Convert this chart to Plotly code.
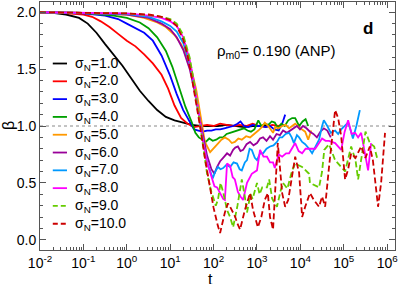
import plotly.graph_objects as go

# ---- data (log10 t, beta) ----
sigma_labels = ["1.0", "2.0", "3.0", "4.0", "5.0", "6.0", "7.0", "8.0", "9.0", "10.0"]
colors = ["#000000", "#ff0000", "#0000ff", "#00a000", "#ff9900",
          "#990099", "#0099ff", "#ff00ff", "#66cc00", "#cc0000"]
dashed = [False] * 8 + [True, True]

lt_1 = [-2.0, -1.7, -1.4, -1.1, -0.9, -0.7, -0.5, -0.3, -0.1, 0.1, 0.3, 0.5, 0.7, 0.9, 1.1, 1.3, 1.5, 1.7, 1.9, 2.1, 2.3, 2.5, 2.7, 2.9, 3.1, 3.3]
b_1 = [2.0, 1.995, 1.98, 1.95, 1.9, 1.82, 1.72, 1.63, 1.53, 1.42, 1.31, 1.22, 1.14, 1.08, 1.05, 1.03, 1.01, 1.0, 1.0, 1.0, 1.01, 1.0, 0.99, 1.0, 1.0, 1.0]

lt_2 = [-2.0, -1.5, -1.0, -0.8, -0.6, -0.4, -0.2, 0.0, 0.2, 0.4, 0.6, 0.8, 0.95, 1.1, 1.25, 1.4, 1.55, 1.7, 1.85, 2.0, 2.15, 2.3, 2.45, 2.6, 2.75, 2.9, 3.05, 3.2, 3.35, 3.5, 3.6]
b_2 = [2.0, 1.995, 1.98, 1.96, 1.92, 1.87, 1.81, 1.75, 1.70, 1.63, 1.55, 1.45, 1.33, 1.18, 1.07, 1.02, 0.99, 1.0, 1.01, 1.0, 1.02, 1.01, 1.0, 1.01, 1.0, 1.02, 1.0, 0.99, 1.01, 1.0, 1.02]

lt_3 = [-2.0, -1.0, -0.5, -0.2, 0.0, 0.2, 0.4, 0.6, 0.8, 1.0, 1.15, 1.3, 1.45, 1.55, 1.65, 1.75, 1.85, 1.95, 2.05, 2.15, 2.25, 2.35, 2.45, 2.55, 2.62, 2.7, 2.8, 2.9, 3.0, 3.1, 3.2, 3.3, 3.4, 3.5, 3.58, 3.65]
b_3 = [2.0, 1.99, 1.97, 1.94, 1.90, 1.86, 1.82, 1.75, 1.62, 1.44, 1.28, 1.14, 1.03, 0.97, 0.96, 0.95, 0.96, 0.96, 0.97, 0.97, 0.98, 0.99, 1.0, 1.02, 1.04, 1.0, 0.99, 1.01, 1.0, 1.0, 0.99, 1.0, 0.97, 0.96, 1.02, 1.1]

lt_4 = [-2.0, -1.0, -0.3, 0.0, 0.3, 0.5, 0.7, 0.9, 1.05, 1.2, 1.35, 1.5, 1.58, 1.66, 1.74, 1.82, 1.9, 1.98, 2.06, 2.14, 2.22, 2.3, 2.38, 2.46, 2.54, 2.62, 2.7, 2.78, 2.86, 2.94, 3.03, 3.1, 3.18, 3.26, 3.34, 3.41, 3.48, 3.56, 3.64, 3.72, 3.81, 3.88, 3.97, 4.05, 4.12, 4.18]
b_4 = [2.0, 1.995, 1.97, 1.95, 1.91, 1.86, 1.78, 1.66, 1.52, 1.34, 1.17, 1.03, 0.94, 0.9, 0.88, 0.86, 0.89, 0.87, 0.88, 0.9, 0.9, 0.93, 0.94, 0.95, 0.96, 0.97, 0.98, 0.96, 0.95, 0.97, 1.05, 1.0, 1.02, 1.01, 1.04, 1.03, 0.98, 1.02, 1.0, 1.05, 1.07, 1.07, 1.0, 1.04, 1.06, 1.0]

lt_5 = [-2.0, -1.0, 0.0, 0.4, 0.7, 0.9, 1.1, 1.25, 1.4, 1.5, 1.6, 1.7, 1.8, 1.92, 2.0, 2.11, 2.18, 2.26, 2.35, 2.42, 2.49, 2.57, 2.65, 2.75, 2.84, 2.94, 3.03, 3.11, 3.18, 3.26, 3.37, 3.42, 3.5, 3.58, 3.66, 3.74, 3.81, 3.88, 3.96, 4.04, 4.11, 4.18, 4.25]
b_5 = [2.0, 1.995, 1.98, 1.95, 1.91, 1.87, 1.80, 1.72, 1.60, 1.48, 1.32, 1.08, 0.86, 0.77, 0.8, 0.85, 0.88, 0.9, 0.88, 0.85, 0.86, 0.89, 0.88, 0.91, 0.9, 0.93, 0.96, 0.99, 1.03, 1.0, 0.94, 0.99, 0.98, 1.0, 1.01, 0.98, 1.0, 1.02, 0.99, 0.97, 0.95, 0.88, 0.96]

lt_6 = [-2.0, -1.0, 0.0, 0.5, 0.8, 1.0, 1.15, 1.3, 1.45, 1.55, 1.65, 1.75, 1.85, 1.95, 2.02, 2.08, 2.15, 2.22, 2.31, 2.38, 2.45, 2.5, 2.56, 2.62, 2.68, 2.76, 2.84, 2.92, 3.0, 3.07, 3.14, 3.22, 3.3, 3.37, 3.45, 3.53, 3.6, 3.69, 3.76, 3.84, 3.92, 3.99, 4.06, 4.14, 4.22, 4.3, 4.38, 4.46, 4.54, 4.62, 4.7]
b_6 = [2.0, 1.995, 1.98, 1.95, 1.90, 1.85, 1.78, 1.67, 1.50, 1.33, 1.12, 0.92, 0.74, 0.62, 0.58, 0.64, 0.69, 0.72, 0.76, 0.74, 0.79, 0.81, 0.82, 0.78, 0.79, 0.84, 0.86, 0.83, 0.85, 0.89, 0.9, 0.87, 0.91, 0.88, 0.93, 0.92, 0.96, 0.94, 0.96, 0.98, 1.0, 0.97, 1.0, 0.98, 0.95, 0.93, 0.9, 0.95, 0.98, 0.96, 0.9]

lt_7 = [-2.0, -1.0, 0.0, 0.5, 0.8, 1.0, 1.15, 1.3, 1.45, 1.55, 1.65, 1.75, 1.85, 1.98, 2.04, 2.1, 2.16, 2.22, 2.3, 2.38, 2.46, 2.54, 2.6, 2.65, 2.72, 2.77, 2.83, 2.88, 2.95, 3.0, 3.07, 3.14, 3.22, 3.3, 3.38, 3.46, 3.52, 3.58, 3.66, 3.74, 3.8, 3.85, 3.92, 3.97, 4.04, 4.11, 4.2, 4.27, 4.35, 4.43, 4.5, 4.54, 4.62, 4.7, 4.8, 4.87, 4.94, 5.02, 5.1, 5.16, 5.21, 5.29, 5.37]
b_7 = [2.0, 1.995, 1.985, 1.96, 1.92, 1.88, 1.83, 1.73, 1.55, 1.37, 1.12, 0.88, 0.68, 0.54, 0.6, 0.64, 0.62, 0.63, 0.66, 0.64, 0.68, 0.67, 0.62, 0.61, 0.68, 0.7, 0.8, 0.79, 0.72, 0.70, 0.76, 0.76, 0.8, 0.82, 0.83, 0.86, 0.9, 0.9, 0.93, 0.94, 0.9, 0.85, 0.92, 0.9, 0.86, 0.84, 0.8, 0.76, 0.82, 0.88, 1.0, 1.05, 1.0, 0.94, 0.96, 0.93, 0.97, 1.0, 1.03, 0.96, 0.89, 1.0, 1.14]

lt_8 = [-2.0, -1.0, 0.0, 0.5, 0.8, 1.0, 1.15, 1.3, 1.45, 1.55, 1.65, 1.75, 1.85, 1.95, 2.02, 2.08, 2.15, 2.22, 2.26, 2.31, 2.38, 2.44, 2.49, 2.56, 2.62, 2.68, 2.77, 2.88, 3.0, 3.07, 3.15, 3.23, 3.3, 3.37, 3.41, 3.5, 3.58, 3.67, 3.74, 3.88, 3.96, 4.04, 4.12, 4.2, 4.34, 4.5, 4.58, 4.66, 4.8, 4.94, 5.02, 5.1, 5.18, 5.26, 5.33, 5.4, 5.5, 5.56, 5.63]
b_8 = [2.0, 1.995, 1.99, 1.97, 1.95, 1.92, 1.88, 1.78, 1.58, 1.38, 1.12, 0.88, 0.68, 0.55, 0.47, 0.46, 0.41, 0.36, 0.35, 0.67, 0.65, 0.55, 0.53, 0.42, 0.38, 0.35, 0.5, 0.58, 0.61, 0.79, 0.73, 0.73, 0.68, 0.68, 0.63, 0.75, 0.73, 0.76, 0.76, 0.85, 0.78, 0.76, 0.8, 0.8, 0.8, 0.89, 0.87, 0.87, 0.85, 0.79, 0.95, 1.05, 0.93, 0.94, 0.9, 0.94, 0.75, 0.61, 0.85]

lt_9 = [-2.0, -1.0, 0.0, 0.5, 0.8, 1.0, 1.15, 1.3, 1.45, 1.55, 1.65, 1.75, 1.85, 1.95, 2.05, 2.1, 2.16, 2.22, 2.31, 2.38, 2.45, 2.55, 2.61, 2.65, 2.72, 2.77, 2.85, 2.9, 3.0, 3.06, 3.12, 3.23, 3.28, 3.35, 3.41, 3.46, 3.55, 3.6, 3.7, 3.81, 3.88, 4.04, 4.2, 4.22, 4.43, 4.5, 4.55, 4.66, 4.8, 4.94, 5.03, 5.17, 5.27, 5.33, 5.5, 5.6, 5.7, 5.78]
b_9 = [2.0, 1.995, 1.99, 1.975, 1.96, 1.94, 1.9, 1.8, 1.6, 1.38, 1.1, 0.82, 0.58, 0.42, 0.3, 0.35, 0.5, 0.42, 0.26, 0.2, 0.11, 0.3, 0.44, 0.53, 0.38, 0.24, 0.4, 0.36, 0.5, 0.4, 0.46, 0.46, 0.53, 0.36, 0.32, 0.29, 0.44, 0.5, 0.45, 0.61, 0.67, 0.64, 0.58, 0.5, 0.46, 0.6, 0.79, 0.84, 0.7, 0.64, 0.6, 0.82, 0.7, 0.53, 0.95, 0.85, 0.82, 0.7]

lt_10 = [-2.0, -1.0, 0.0, 0.5, 0.8, 1.0, 1.15, 1.3, 1.4, 1.5, 1.6, 1.7, 1.8, 1.9, 2.0, 2.1, 2.15, 2.26, 2.33, 2.38, 2.5, 2.54, 2.61, 2.72, 2.84, 2.91, 3.02, 3.1, 3.18, 3.25, 3.3, 3.37, 3.43, 3.48, 3.58, 3.65, 3.72, 3.81, 3.88, 3.97, 4.04, 4.11, 4.22, 4.31, 4.43, 4.5, 4.57, 4.66, 4.73, 4.8, 4.87, 4.94, 5.03, 5.1, 5.17, 5.27, 5.4, 5.5, 5.6, 5.67, 5.79, 5.86, 5.95]
b_10 = [2.0, 1.995, 1.99, 1.98, 1.96, 1.93, 1.88, 1.76, 1.62, 1.42, 1.2, 0.97, 0.72, 0.48, 0.28, 0.12, 0.06, 0.24, 0.32, 0.29, 0.2, 0.15, 0.09, 0.26, 0.41, 0.26, 0.11, 0.2, 0.35, 0.41, 0.2, 0.09, 0.5, 0.85, 0.41, 0.29, 0.35, 0.55, 0.73, 0.59, 0.2, 0.29, 0.41, 0.35, 0.29, 0.38, 0.29, 0.64, 0.88, 1.14, 1.07, 0.91, 0.53, 0.62, 0.76, 0.72, 0.82, 0.72, 0.82, 0.70, 0.29, 0.5, 0.94]

series_logt = [lt_1, lt_2, lt_3, lt_4, lt_5, lt_6, lt_7, lt_8, lt_9, lt_10]
series_beta = [b_1, b_2, b_3, b_4, b_5, b_6, b_7, b_8, b_9, b_10]

x_tick_exps = [-2, -1, 0, 1, 2, 3, 4, 5, 6]
y_tick_vals = [0.0, 0.5, 1.0, 1.5, 2.0]

FONT = "Liberation Sans, Arial, sans-serif"

fig = go.Figure()
for i in range(len(series_logt)):
    fig.add_trace(go.Scatter(
        x=[10 ** v for v in series_logt[i]], y=series_beta[i], mode="lines",
        line=dict(color=colors[i], width=1.8, dash="6px,3px" if dashed[i] else "solid"),
        showlegend=False, hoverinfo="skip"))

# minor ticks
x_minor = [m * 10 ** e for e in range(-2, 7) for m in range(2, 10) if m * 10 ** e < 10 ** 6.18]
y_minor = [round(0.1 * k, 1) for k in range(0, 21)]

axis_color = "#555555"
fig.update_xaxes(
    type="log", range=[-2, 6.18], automargin=False,
    tickmode="array", tickvals=[10 ** e for e in x_tick_exps],
    ticktext=["10<sup>%d</sup>" % e for e in x_tick_exps],
    ticks="inside", ticklen=6, tickcolor=axis_color, tickwidth=1,
    minor=dict(tickmode="array", tickvals=x_minor, ticks="inside", ticklen=3, tickcolor=axis_color),
    showline=True, linecolor=axis_color, linewidth=1, mirror="ticks",
    showgrid=False, zeroline=False,
    tickfont=dict(family=FONT, size=14, color="#000"),
)
fig.update_yaxes(
    range=[-0.09, 2.09], automargin=False,
    tickmode="array", tickvals=y_tick_vals, ticktext=["%.1f" % v for v in y_tick_vals],
    ticks="inside", ticklen=6, tickcolor=axis_color, tickwidth=1,
    minor=dict(tickmode="array", tickvals=y_minor, ticks="inside", ticklen=3, tickcolor=axis_color),
    showline=True, linecolor=axis_color, linewidth=1, mirror="ticks",
    showgrid=False, zeroline=False,
    tickfont=dict(family=FONT, size=14, color="#000"),
)

# axis titles
fig.add_annotation(xref="paper", yref="paper", x=0.479, y=-0.117, xanchor="center", yanchor="middle",
                   text="t", showarrow=False, font=dict(family=FONT, size=16, color="#000"))
fig.add_annotation(xref="paper", yref="paper", x=-0.09, y=0.5, xanchor="center", yanchor="middle",
                   text="β", textangle=-90, showarrow=False, font=dict(family=FONT, size=16, color="#000"))

# dotted reference line at beta = 1
fig.add_shape(type="line", xref="paper", yref="y", x0=0, x1=1, y0=1.0, y1=1.0,
              line=dict(color="#888888", width=1, dash="dot"), layer="below")

# manual legend
leg_top = 0.752
leg_step = 0.0718
for i in range(len(sigma_labels)):
    yy = leg_top - i * leg_step
    fig.add_shape(type="line", xref="paper", yref="paper", x0=0.036, x1=0.076, y0=yy, y1=yy,
                  line=dict(color=colors[i], width=1.8, dash="5px,3px" if dashed[i] else "solid"))
    fig.add_annotation(xref="paper", yref="paper", x=0.092, y=yy, xanchor="left", yanchor="middle",
                       text="σ<sub>N</sub>=" + sigma_labels[i], showarrow=False,
                       font=dict(family=FONT, size=14, color="#000"))

fig.add_annotation(xref="paper", yref="paper", x=0.493, y=0.80, xanchor="left", yanchor="middle",
                   text="ρ<sub>m0</sub>= 0.190 (ANP)", showarrow=False,
                   font=dict(family=FONT, size=15, color="#000"))
fig.add_annotation(xref="paper", yref="paper", x=0.925, y=0.895, xanchor="center", yanchor="middle",
                   text="<b>d</b>", showarrow=False,
                   font=dict(family=FONT, size=17, color="#000"))

fig.update_layout(
    width=399, height=284,
    margin=dict(l=40, r=4, t=2, b=34),
    paper_bgcolor="white", plot_bgcolor="white",
    font=dict(family=FONT, color="#000"),
)

fig.write_html("out.html", config={"displayModeBar": False},
               post_script="document.body.style.margin='0';document.body.style.padding='0';")
